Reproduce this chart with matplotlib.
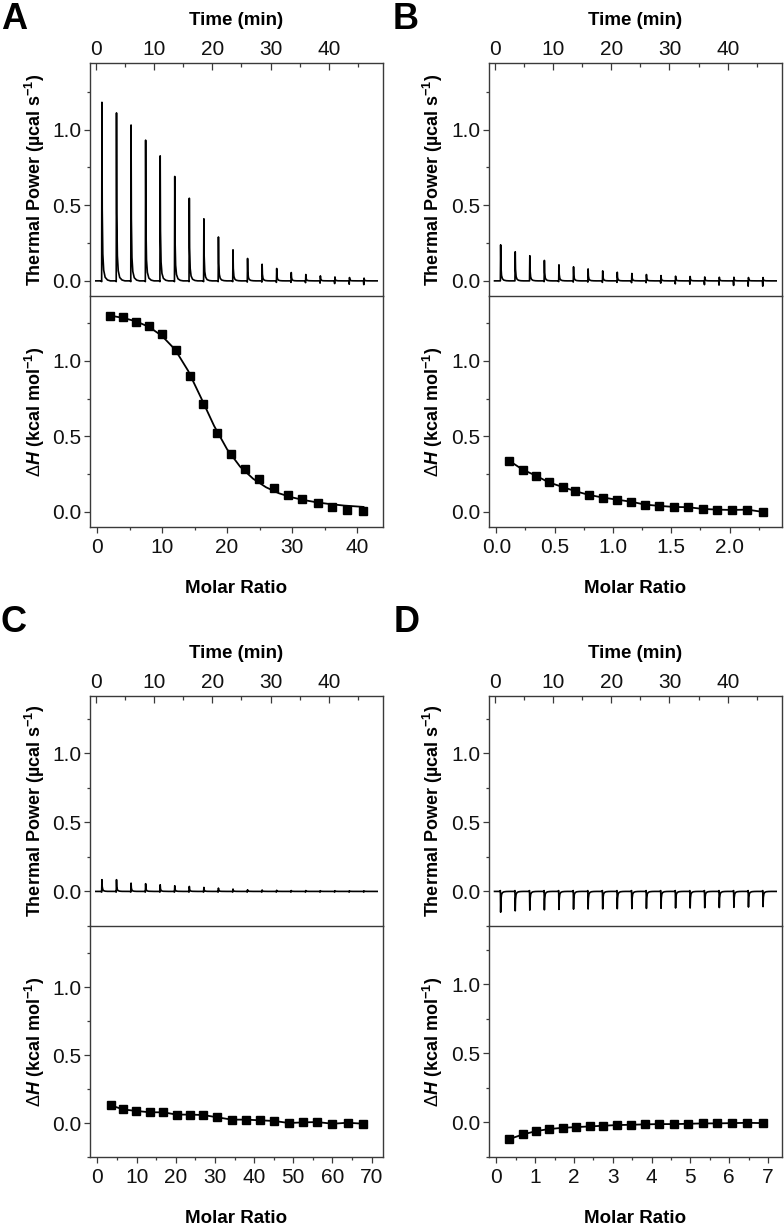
import numpy as np
import matplotlib
matplotlib.use('Agg')
import matplotlib.pyplot as plt
from matplotlib.ticker import MultipleLocator, FormatStrFormatter

plt.rcParams['font.family'] = ['Liberation Sans', 'DejaVu Sans']
plt.rcParams['mathtext.fontset'] = 'custom'
plt.rcParams['mathtext.rm'] = 'Liberation Sans'
plt.rcParams['mathtext.bf'] = 'Liberation Sans:bold'
plt.rcParams['mathtext.it'] = 'Liberation Sans:bold:italic'

# injection times (min), same protocol for all four runs
t_inj = [1.0, 3.5, 6.0, 8.5, 11.0, 13.5, 16.0, 18.5, 21.0, 23.5,
         26.0, 28.5, 31.0, 33.5, 36.0, 38.5, 41.0, 43.5, 46.0]
t_end = 48.3

# raw thermograms: peak height and small undershoot per injection (ucal/s)
peak_A = [1.18, 1.11, 1.03, 0.93, 0.826, 0.69, 0.546, 0.41, 0.29, 0.205,
          0.148, 0.11, 0.082, 0.055, 0.042, 0.033, 0.026, 0.022, 0.018]
dip_A = [0.005, 0.005, 0.005, 0.005, 0.005, 0.005, 0.005, 0.005, 0.005, 0.005,
         0.008, 0.008, 0.01, 0.01, 0.012, 0.015, 0.018, 0.022, 0.025]
peak_B = [0.238, 0.192, 0.166, 0.135, 0.106, 0.093, 0.079, 0.066, 0.057, 0.049,
          0.042, 0.035, 0.031, 0.029, 0.026, 0.024, 0.024, 0.022, 0.022]
dip_B = [0.0, 0.0, 0.0, 0.005, 0.005, 0.008, 0.008, 0.01, 0.01, 0.012,
         0.012, 0.015, 0.02, 0.022, 0.025, 0.028, 0.03, 0.035, 0.035]
peak_C = [0.085, 0.085, 0.06, 0.056, 0.048, 0.041, 0.036, 0.029, 0.024, 0.017,
          0.012, 0.01, 0.008, 0.006, 0.006, 0.005, 0.005, 0.004, 0.004]
dip_C = [0.005] * 19
peak_D = [-0.15, -0.14, -0.135, -0.133, -0.13, -0.128, -0.127, -0.126, -0.125, -0.124,
          -0.123, -0.122, -0.12, -0.12, -0.118, -0.117, -0.115, -0.113, -0.11]
dip_D = [-0.006] * 19

# shape of one injection peak (offset in min, fraction of peak height)
prof_dt = [-0.06, 0.0, 0.05, 0.1, 0.2, 0.35, 0.6, 1.0, 1.5]
prof_up = [0.0, 0.0, 1.0, 0.4, 0.15, 0.06, 0.02, 0.005, 0.0]
prof_dn = [0.0, 1.0, 0.0, 0.0, 0.0, 0.0, 0.0, 0.0, 0.0]

# integrated heats (kcal/mol) vs molar ratio
mr_A = [1.95, 4.0, 5.95, 8.0, 10.05, 12.1, 14.26, 16.3, 18.46, 20.57,
        22.7, 24.9, 27.2, 29.4, 31.6, 34.0, 36.2, 38.5, 40.9]
dh_A = [1.30, 1.29, 1.26, 1.23, 1.18, 1.07, 0.90, 0.715, 0.525, 0.386,
        0.285, 0.216, 0.159, 0.113, 0.086, 0.062, 0.035, 0.013, 0.007]
fit_x_A = [2, 4, 6, 8, 10, 12, 14, 16, 18, 20, 22, 24, 26, 28, 30, 32, 34, 36, 38, 40, 41]
fit_y_A = [1.30, 1.285, 1.262, 1.225, 1.165, 1.075, 0.935, 0.755, 0.57, 0.415,
           0.30, 0.22, 0.163, 0.123, 0.096, 0.077, 0.062, 0.051, 0.042, 0.036, 0.033]

mr_B = [0.111, 0.226, 0.34, 0.449, 0.569, 0.678, 0.798, 0.915, 1.035, 1.153,
        1.278, 1.398, 1.521, 1.644, 1.77, 1.893, 2.02, 2.153, 2.285]
dh_B = [0.339, 0.28, 0.24, 0.196, 0.165, 0.137, 0.112, 0.095, 0.081, 0.068,
        0.048, 0.04, 0.033, 0.031, 0.02, 0.015, 0.013, 0.015, 0.0]

mr_C = [3.4, 6.6, 9.9, 13.4, 16.8, 20.2, 23.6, 27.0, 30.6, 34.3,
        37.8, 41.5, 45.2, 48.9, 52.6, 56.1, 60.0, 63.9, 67.9]
dh_C = [0.13, 0.10, 0.089, 0.079, 0.079, 0.062, 0.062, 0.059, 0.042, 0.025,
        0.025, 0.02, 0.015, 0.0, 0.005, 0.007, -0.005, 0.002, -0.005]

mr_D = [0.335, 0.68, 1.02, 1.35, 1.71, 2.04, 2.40, 2.75, 3.11, 3.47,
        3.84, 4.20, 4.57, 4.94, 5.32, 5.69, 6.08, 6.47, 6.87]
dh_D = [-0.12, -0.087, -0.063, -0.048, -0.039, -0.034, -0.029, -0.024, -0.019, -0.017,
        -0.014, -0.012, -0.012, -0.01, -0.007, -0.007, -0.005, -0.003, -0.005]


def trace(peaks, dips):
    tx, ty = [0.0], [0.0]
    for t, h, d in zip(t_inj, peaks, dips):
        for dt, u, n in zip(prof_dt, prof_up, prof_dn):
            tx.append(t + dt)
            ty.append(h * u - d * n)
    tx.append(t_end)
    ty.append(0.0)
    return tx, ty


W, H = 784, 1226
fig = plt.figure(figsize=(W / 100, H / 100), dpi=100)


def box(l, t, r, b):
    return [l / W, 1 - b / H, (r - l) / W, (b - t) / H]


spine_c = '#3a3a3a'


def common(ax):
    for s in ax.spines.values():
        s.set_color(spine_c)
        s.set_linewidth(1.0)
    ax.tick_params(which='both', colors=spine_c, labelcolor='#111111', labelsize=15, width=0.9)
    ax.tick_params(axis='y', which='major', direction='out', length=4, pad=2, right=False)
    ax.tick_params(axis='y', which='minor', direction='out', length=2.5, right=False)
    ax.yaxis.set_major_locator(MultipleLocator(0.5))
    ax.yaxis.set_minor_locator(MultipleLocator(0.25))
    ax.yaxis.set_major_formatter(FormatStrFormatter('%.1f'))


def top_panel(pos, peaks, dips, ylim):
    ax = fig.add_axes(box(*pos))
    common(ax)
    tx, ty = trace(peaks, dips)
    ax.plot(tx, ty, color='black', lw=1.2)
    ax.set_xlim(-1, 49.3)
    ax.set_ylim(*ylim)
    ax.xaxis.tick_top()
    ax.xaxis.set_label_position('top')
    ax.xaxis.set_major_locator(MultipleLocator(10))
    ax.xaxis.set_minor_locator(MultipleLocator(5))
    ax.tick_params(axis='x', which='major', direction='in', length=5, pad=3, top=True, bottom=False)
    ax.tick_params(axis='x', which='minor', direction='in', length=3, top=True, bottom=False)
    ax.spines['bottom'].set_visible(False)
    ax.set_xlabel('Time (min)', fontsize=13.5, fontweight='bold')
    ax.xaxis.set_label_coords(0.5, 1.165)
    ax.set_ylabel('Thermal Power (µcal s$^{\\mathbf{-1}}$)', fontsize=13, fontweight='bold')
    ax.yaxis.set_label_coords(-0.148, 0.5)
    return ax


def bottom_panel(pos, x, y, xlim, ylim, major, minor, fx=None, fy=None, fmt=None):
    ax = fig.add_axes(box(*pos))
    common(ax)
    if fx is not None:
        ax.plot(fx, fy, color='black', lw=1.3)
    else:
        ax.plot(x, y, color='black', lw=1.3)
    ax.plot(x, y, 's', color='black', ms=6)
    ax.set_xlim(*xlim)
    ax.set_ylim(*ylim)
    ax.xaxis.set_major_locator(MultipleLocator(major))
    ax.xaxis.set_minor_locator(MultipleLocator(minor))
    if fmt:
        ax.xaxis.set_major_formatter(FormatStrFormatter(fmt))
    ax.tick_params(axis='x', which='major', direction='out', length=4, pad=4, top=False)
    ax.tick_params(axis='x', which='minor', direction='out', length=2.5, top=False)
    ax.set_xlabel('Molar Ratio', fontsize=13.5, fontweight='bold')
    ax.xaxis.set_label_coords(0.5, -0.229)
    ax.set_ylabel('$\\mathit{\\Delta H}$ (kcal mol$^{\\mathbf{-1}}$)', fontsize=13, fontweight='bold')
    ax.yaxis.set_label_coords(-0.148, 0.5)
    return ax


xl, xr = 90, 383
xl2, xr2 = 488.7, 782

top_panel((xl, 63, xr, 296), peak_A, dip_A, (-0.1, 1.44))
bottom_panel((xl, 296, xr, 527), mr_A, dh_A, (-1.1, 44), (-0.1, 1.43), 10, 5, fit_x_A, fit_y_A)

top_panel((xl2, 63, xr2, 296), peak_B, dip_B, (-0.1, 1.44))
bottom_panel((xl2, 296, xr2, 527), mr_B, dh_B, (-0.065, 2.45), (-0.1, 1.43), 0.5, 0.25, fmt='%.1f')

top_panel((xl, 695.7, xr, 926), peak_C, dip_C, (-0.25, 1.415))
bottom_panel((xl, 926, xr, 1157), mr_C, dh_C, (-1.9, 72.9), (-0.25, 1.45), 10, 5)

top_panel((xl2, 695.7, xr2, 926), peak_D, dip_D, (-0.25, 1.415))
bottom_panel((xl2, 926, xr2, 1157), mr_D, dh_D, (-0.2, 7.36), (-0.25, 1.42), 1, 0.5)

for lab, x, y in [('A', 1, 29), ('B', 393, 29), ('C', 1, 632), ('D', 394, 632)]:
    fig.text(x / W, 1 - y / H, lab, fontsize=26, fontweight='bold', ha='left', va='baseline')

fig.savefig('out.png', dpi=100)
